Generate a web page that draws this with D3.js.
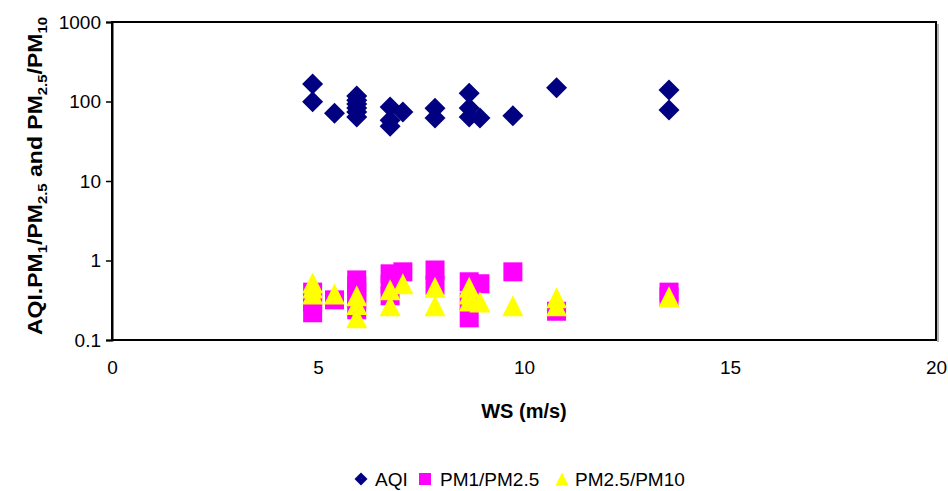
<!DOCTYPE html>
<html>
<head>
<meta charset="utf-8">
<script src="https://cdn.jsdelivr.net/npm/d3@7"></script>
<style>
  html, body { margin: 0; padding: 0; background: #fff; }
  svg { display: block; font-family: Arial, "Liberation Sans", sans-serif; }
</style>
</head>
<body>
<svg id="chart" width="948" height="491"></svg>
<script>
// Wind speed (m/s) against AQI and particulate ratios
const aqiWS  = [4.87, 4.87, 5.40, 5.94, 5.94, 5.94, 5.94, 5.94, 5.94, 6.75, 6.75, 6.75, 7.06,
                7.84, 7.84, 8.67, 8.67, 8.67, 8.93, 9.73, 10.79, 13.52, 13.52];
const aqiVal = [166, 99, 71, 117, 104, 93, 83, 74, 64, 85, 58, 49, 74,
                82, 62, 127, 83, 64, 62, 66, 149, 140, 78];

const pm1WS  = [4.87, 4.87, 4.87, 5.40, 5.94, 5.94, 5.94, 5.94, 5.94, 6.75, 6.75, 6.75, 7.06,
                7.84, 7.84, 8.67, 8.67, 8.67, 8.93, 9.73, 10.79, 13.52, 13.52];
const pm1Val = [0.40, 0.30, 0.22, 0.32, 0.57, 0.48, 0.40, 0.33, 0.24, 0.68, 0.50, 0.36, 0.72,
                0.76, 0.49, 0.54, 0.30, 0.19, 0.51, 0.72, 0.23, 0.40, 0.35];

const pm25WS  = [4.87, 4.87, 4.87, 5.40, 5.94, 5.94, 5.94, 6.75, 6.75, 7.06,
                 7.84, 7.84, 8.67, 8.67, 8.67, 8.93, 9.73, 10.79, 10.79, 13.52];
const pm25Val = [0.52, 0.45, 0.38, 0.38, 0.36, 0.28, 0.19, 0.43, 0.27, 0.51,
                 0.46, 0.27, 0.46, 0.38, 0.31, 0.30, 0.27, 0.34, 0.27, 0.35];

const xTicks = [0, 5, 10, 15, 20];
const yTicks = [0.1, 1, 10, 100, 1000];
const yTickLabels = ["0.1", "1", "10", "100", "1000"];

const seriesNames = ["AQI", "PM1/PM2.5", "PM2.5/PM10"];
const seriesColors = ["#000080", "#FF00FF", "#FFFF00"];

const svg = d3.select("#chart");
const plot = { left: 112, right: 936, top: 22, bottom: 340 };

const x = d3.scaleLinear().domain([0, 20]).range([plot.left, plot.right]);
const y = d3.scaleLog().domain([0.1, 1000]).range([plot.bottom, plot.top]);

// Marker shapes; "size" is the full width of the marker in pixels
const diamond = { draw(ctx, s) { const r = s / 2; ctx.moveTo(0, -r); ctx.lineTo(r, 0); ctx.lineTo(0, r); ctx.lineTo(-r, 0); ctx.closePath(); } };
const square  = { draw(ctx, s) { const r = s / 2; ctx.rect(-r, -r, s, s); } };
const triangle = { draw(ctx, s) { const r = s / 2; ctx.moveTo(0, -r); ctx.lineTo(r, r); ctx.lineTo(-r, r); ctx.closePath(); } };
const shapes = [diamond, square, triangle];
const markerSize = [21, 19, 21];

// Plot frame shadow and border
svg.append("line")
  .attr("x1", plot.right + 2).attr("x2", plot.right + 2)
  .attr("y1", plot.top + 2).attr("y2", plot.bottom + 2)
  .attr("stroke", "#9a9a9a").attr("stroke-width", 1.5);
svg.append("rect")
  .attr("x", plot.left).attr("y", plot.top)
  .attr("width", plot.right - plot.left).attr("height", plot.bottom - plot.top)
  .attr("fill", "#fff").attr("stroke", "#000").attr("stroke-width", 2);

// Axes
const yAxis = svg.append("g")
  .attr("transform", `translate(${plot.left},0)`)
  .call(d3.axisLeft(y).tickValues(yTicks)
    .tickFormat((d, i) => yTickLabels[i]).tickSize(6).tickPadding(5));
yAxis.select(".domain").attr("stroke-width", 2);
yAxis.selectAll(".tick line").attr("stroke-width", 1.5);
yAxis.selectAll(".tick text").attr("font-size", 19).attr("fill", "#000")
  .attr("font-family", "Arial, 'Liberation Sans', sans-serif");

const xAxis = svg.append("g")
  .attr("transform", `translate(0,${plot.bottom})`)
  .call(d3.axisBottom(x).tickValues(xTicks).tickFormat(d3.format("d")).tickSize(0).tickPadding(21));
xAxis.select(".domain").remove();
xAxis.selectAll(".tick text").attr("font-size", 19).attr("fill", "#000")
  .attr("font-family", "Arial, 'Liberation Sans', sans-serif");

// Data points
const series = [
  { ws: aqiWS, val: aqiVal },
  { ws: pm1WS, val: pm1Val },
  { ws: pm25WS, val: pm25Val }
];
series.forEach((s, k) => {
  const sym = d3.symbol().type(shapes[k]).size(markerSize[k]);
  svg.append("g").selectAll("path")
    .data(s.ws.map((w, i) => [w, s.val[i]]))
    .join("path")
    .attr("transform", d => `translate(${x(d[0])},${y(d[1])})`)
    .attr("d", sym)
    .attr("fill", seriesColors[k]);
});

// Axis titles
svg.append("text")
  .attr("x", (plot.left + plot.right) / 2).attr("y", 418)
  .attr("text-anchor", "middle").attr("font-weight", "bold").attr("font-size", 20)
  .text("WS (m/s)");

const yTitle = svg.append("text")
  .attr("transform", "translate(42,176) scale(1,1.15) rotate(-90)")
  .attr("text-anchor", "middle").attr("font-weight", "bold").attr("font-size", 20);
const parts = [["AQI.PM", false], ["1", true], ["/PM", false], ["2.5", true],
               [" and PM", false], ["2.5", true], ["/PM", false], ["10", true]];
parts.forEach(([t, sub], i) => {
  const prevSub = i > 0 && parts[i - 1][1];
  yTitle.append("tspan")
    .attr("font-size", sub ? 13 : 20)
    .attr("dy", sub ? 5 : (prevSub ? -5 : 0))
    .text(t);
});

// Legend
const legendItems = [
  { x: 361, tx: 375 },
  { x: 425, tx: 440 },
  { x: 562, tx: 575 }
];
const legendY = 479;
const legendSize = [13, 12, 13];
legendItems.forEach((it, k) => {
  svg.append("path")
    .attr("transform", `translate(${it.x},${legendY})`)
    .attr("d", d3.symbol().type(shapes[k]).size(legendSize[k]))
    .attr("fill", seriesColors[k]);
  svg.append("text")
    .attr("x", it.tx).attr("y", legendY + 7)
    .attr("font-size", 19)
    .text(seriesNames[k]);
});
</script>
</body>
</html>
